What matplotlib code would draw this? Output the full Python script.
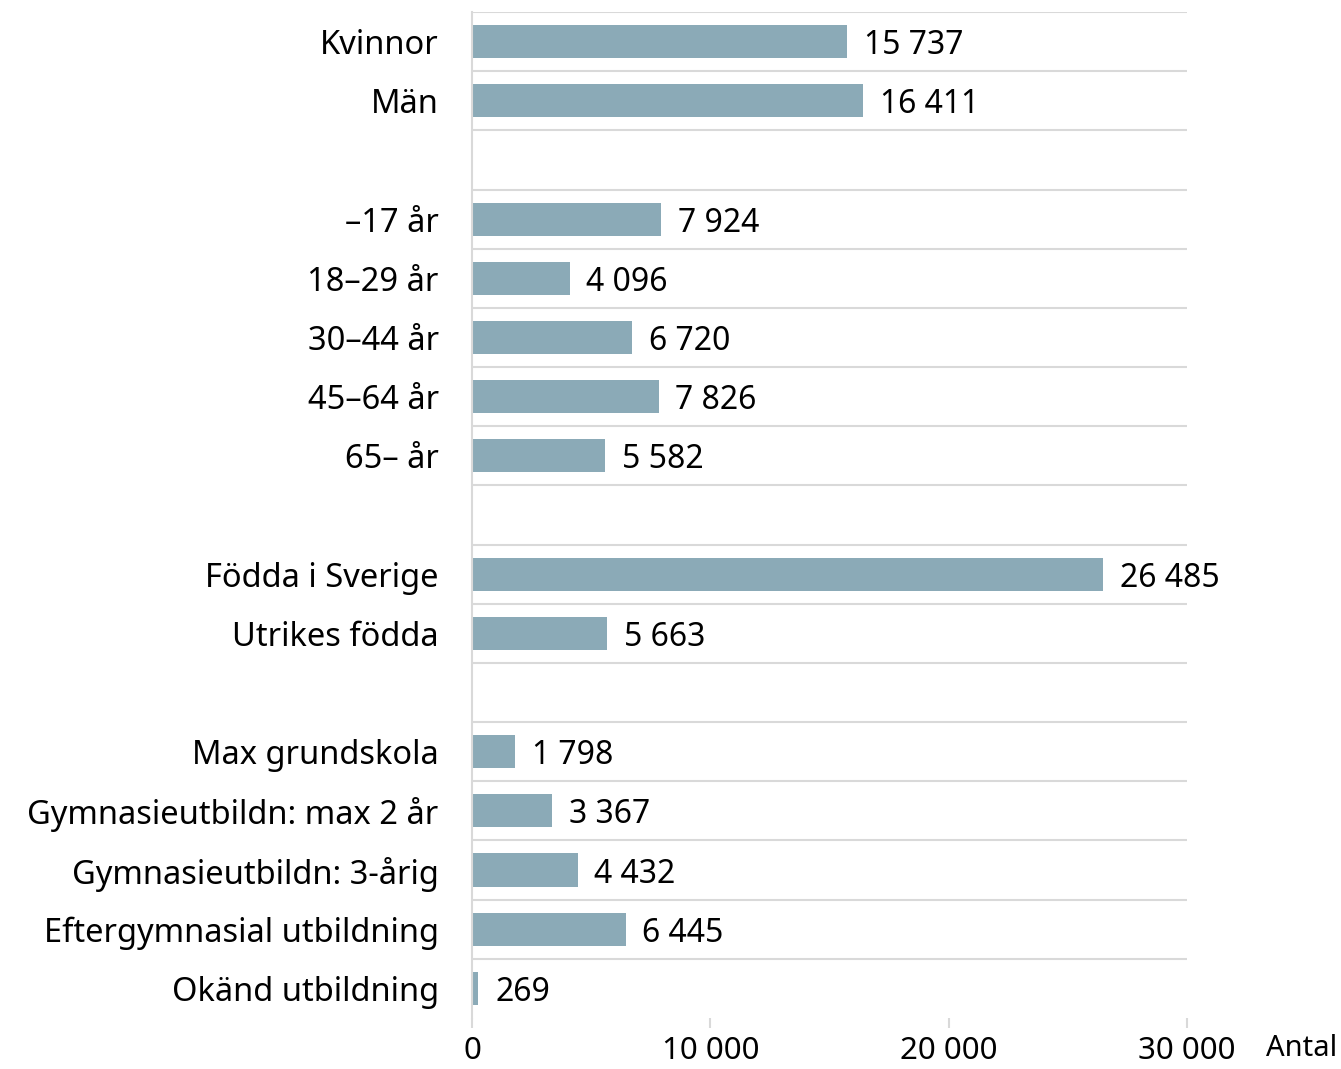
import matplotlib
matplotlib.use("Agg")
import matplotlib.pyplot as plt

plt.rcParams['font.family'] = ['Noto Sans', 'DejaVu Sans']

# Data (groups separated by blank rows)
kon_labels = ["Kvinnor", "Män"]
kon_values = [15737, 16411]
alder_labels = ["\u201317 år", "18\u201329 år", "30\u201344 år", "45\u201364 år", "65\u2013 år"]
alder_values = [7924, 4096, 6720, 7826, 5582]
fodelse_labels = ["Födda i Sverige", "Utrikes födda"]
fodelse_values = [26485, 5663]
utb_labels = ["Max grundskola", "Gymnasieutbildn: max 2 år", "Gymnasieutbildn: 3-årig",
              "Eftergymnasial utbildning", "Okänd utbildning"]
utb_values = [1798, 3367, 4432, 6445, 269]
x_ticks = [0, 10000, 20000, 30000]
x_ticklabels = ["0", "10 000", "20 000", "30 000"]
x_unit = "Antal"

groups = [(kon_labels, kon_values), (alder_labels, alder_values),
          (fodelse_labels, fodelse_values), (utb_labels, utb_values)]

labels, values, pos = [], [], []
p = 0
for gi, (ls, vs) in enumerate(groups):
    for l, v in zip(ls, vs):
        labels.append(l); values.append(v); pos.append(p); p += 1
    if gi < len(groups) - 1:
        p += 1
nrows = p

W, H = 1341, 1069
fig = plt.figure(figsize=(W / 100, H / 100), dpi=100)
ax = fig.add_axes([472 / W, 1 - 1018 / H, (1187 - 472) / W, (1018 - 12) / H])

bar_color = "#8BAAB7"
grid_color = "#D9D9D9"

ax.barh(pos, values, height=0.56, color=bar_color, zorder=2)
ax.set_ylim(nrows - 0.5, -0.5)
ax.set_xlim(0, 30000)

for i in range(nrows):
    ax.axhline(i - 0.5, color=grid_color, lw=1.5, zorder=1)

for y, v in zip(pos, values):
    ax.annotate(f"{v:,}".replace(",", " "), (v, y), xytext=(12, 0), textcoords="offset points",
                va="center_baseline", ha="left", fontsize=23, color="#000000")

ax.set_yticks(pos)
ax.set_yticklabels(labels, fontsize=23.5, va="center_baseline")
ax.tick_params(axis="y", length=0, pad=24)

ax.set_xticks(x_ticks)
ax.set_xticklabels(x_ticklabels, fontsize=22.5)
ax.tick_params(axis="x", length=7, width=1.5, color=grid_color, pad=6)

for s in ["top", "right", "bottom"]:
    ax.spines[s].set_visible(False)
ax.spines["left"].set_color(grid_color)
ax.spines["left"].set_linewidth(1.5)

fig.text(1302 / W, 1 - 1049 / H, x_unit, ha="center", va="center", fontsize=21)

fig.savefig("out.png", dpi=100)
